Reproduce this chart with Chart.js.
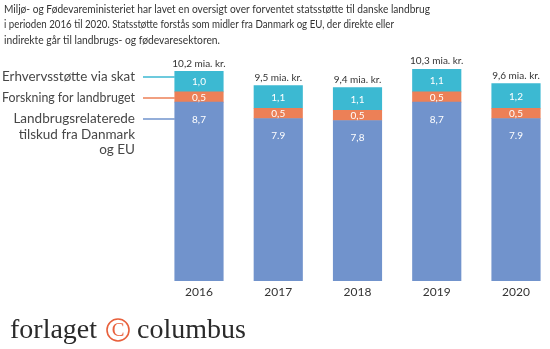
<!DOCTYPE html>
<html>
<head>
<meta charset="utf-8">
<script src="https://cdn.jsdelivr.net/npm/chart.js@4.4.0/dist/chart.umd.min.js"></script>
<style>
  html, body { margin: 0; padding: 0; background: #fff; }
  #wrap { width: 550px; height: 349px; position: relative; }
</style>
</head>
<body>
<div id="wrap"><canvas id="chart" width="550" height="349"></canvas></div>
<script>
// statsstøtte pr. år, mia. kr.
const years = ["2016", "2017", "2018", "2019", "2020"];
const tilskud = [8.7, 7.9, 7.8, 8.7, 7.9];
const forskning = [0.5, 0.5, 0.5, 0.5, 0.5];
const erhverv = [1.0, 1.1, 1.1, 1.1, 1.2];
// decimaltegn som de står på søjlerne
const tilskudMark = [",", ".", ",", ",", "."];

const seriesNames = [
  "Landbrugsrelaterede\ntilskud fra Danmark\nog EU",
  "Forskning for landbruget",
  "Erhvervsstøtte via skat",
];

const introLines = [
  "Miljø- og Fødevareministeriet har lavet en oversigt over forventet statsstøtte til danske landbrug",
  "i perioden 2016 til 2020. Statsstøtte forstås som midler fra Danmark og EU, der direkte eller",
  "indirekte går til landbrugs- og fødevaresektoren.",
];

const BLUE = "#7193cc";
const ORANGE = "#ec8057";
const CYAN = "#3cb9d2";
const FONT = "Lato, 'Open Sans', sans-serif";

const fmt = (v, mark) => v.toFixed(1).replace(".", mark || ",");

const decorations = {
  id: "decorations",
  afterDatasetsDraw(chart) {
    const ctx = chart.ctx;
    ctx.save();

    // værdier i søjlerne
    ctx.textAlign = "center";
    ctx.textBaseline = "middle";
    ctx.font = "10px " + FONT;
    ctx.fillStyle = "#ffffff";
    chart.data.datasets.forEach((ds, di) => {
      const meta = chart.getDatasetMeta(di);
      meta.data.forEach((bar, i) => {
        const top = Math.min(bar.y, bar.base);
        const bottom = Math.max(bar.y, bar.base);
        let y = (top + bottom) / 2;
        if (di === 0) y = top + 17;
        const mark = di === 0 ? tilskudMark[i] : ",";
        ctx.fillText(fmt(ds.data[i], mark), bar.x, y + 0.5);
      });
    });

    // total over hver søjle
    const topMeta = chart.getDatasetMeta(2);
    ctx.fillStyle = "#333333";
    ctx.font = "10px " + FONT;
    topMeta.data.forEach((bar, i) => {
      const total = tilskud[i] + forskning[i] + erhverv[i];
      ctx.fillText(fmt(total) + " mia. kr.", bar.x, bar.y - 8);
    });

    // forklaring til venstre med streger ind til første søjle
    const first = chart.getDatasetMeta(0).data[0];
    const barLeft = first.x - first.width / 2;
    const rows = [
      { y: 77, color: CYAN, text: seriesNames[2] },
      { y: 98, color: ORANGE, text: seriesNames[1] },
      { y: 119, color: BLUE, text: seriesNames[0] },
    ];
    ctx.textAlign = "right";
    ctx.font = "13.5px " + FONT;
    ctx.fillStyle = "#474747";
    rows.forEach((r) => {
      r.text.split("\n").forEach((line, k) => {
        ctx.fillText(line, 135, r.y + k * 15.3, 133);
      });
      ctx.strokeStyle = r.color;
      ctx.lineWidth = 1.5;
      ctx.beginPath();
      ctx.moveTo(143, r.y);
      ctx.lineTo(barLeft, r.y);
      ctx.stroke();
    });

    // indledende tekst
    ctx.textAlign = "left";
    ctx.textBaseline = "middle";
    ctx.font = "11px " + FONT;
    ctx.fillStyle = "#333333";
    const widths = [426, 390, 216];
    introLines.forEach((line, k) => {
      ctx.fillText(line, 4, 9 + k * 15.5, widths[k]);
    });

    // forlagets logo
    ctx.textBaseline = "alphabetic";
    ctx.font = "28px 'Liberation Serif', serif";
    ctx.fillStyle = "#2a2a2a";
    ctx.fillText("forlaget", 10, 338, 87);
    ctx.fillText("columbus", 137, 338, 112);
    ctx.strokeStyle = "#e8603c";
    ctx.lineWidth = 1.6;
    ctx.beginPath();
    ctx.arc(118, 330, 11, 0, Math.PI * 2);
    ctx.stroke();
    ctx.fillStyle = "#e8603c";
    ctx.textAlign = "center";
    ctx.textBaseline = "middle";
    ctx.font = "19px 'Liberation Serif', serif";
    ctx.fillText("C", 118, 331);

    ctx.restore();
  },
};

new Chart(document.getElementById("chart"), {
  type: "bar",
  data: {
    labels: years,
    datasets: [
      { label: "Landbrugsrelaterede tilskud fra Danmark og EU", data: tilskud, backgroundColor: BLUE },
      { label: "Forskning for landbruget", data: forskning, backgroundColor: ORANGE },
      { label: "Erhvervsstøtte via skat", data: erhverv, backgroundColor: CYAN },
    ],
  },
  options: {
    responsive: false,
    animation: false,
    events: [],
    layout: { padding: { left: 199, right: 34, top: 60, bottom: 46 } },
    datasets: { bar: { barThickness: 48.5, clip: false, borderWidth: 0 } },
    plugins: {
      legend: { display: false },
      tooltip: { enabled: false },
      title: { display: false },
    },
    scales: {
      x: {
        stacked: true,
        offset: false,
        grid: { display: false, drawTicks: false, tickLength: 0 },
        border: { display: false },
        ticks: { color: "#333", font: { family: FONT, size: 12 }, padding: 4 },
      },
      y: {
        stacked: true,
        display: false,
        min: 0,
        max: 10.75,
      },
    },
  },
  plugins: [decorations],
});
</script>
</body>
</html>
